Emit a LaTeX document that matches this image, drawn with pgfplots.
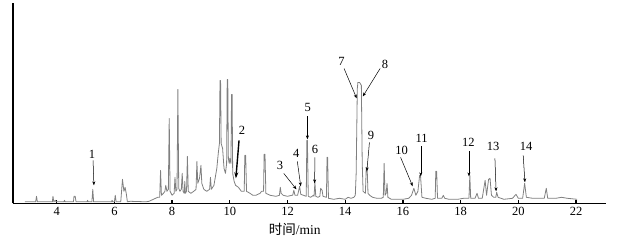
\documentclass[border=0pt]{standalone}
\usepackage{fontspec}
\setmainfont{Liberation Serif}
\newfontfamily\cjk{Noto Sans CJK SC}
\usepackage{pgfplots}
\pgfplotsset{compat=1.18}
\usetikzlibrary{arrows.meta}
\definecolor{sig}{RGB}{128,128,128}
\begin{document}
\begin{tikzpicture}
\begin{axis}[
  name=ax,
  at={(0,0)}, anchor=south west,
  scale only axis, width=593pt, height=200pt,
  xmin=2.485, xmax=23.04, ymin=0, ymax=200.3,
  axis lines*=left,
  axis line style={black, line width=1.3pt},
  xtick={4,6,...,22}, ytick=\empty,
  tick align=inside, major tick length=3.5pt,
  tick style={black, line width=1.3pt},
  xticklabel style={font=\fontsize{12.5}{14}\selectfont},
  /pgf/number format/assume math mode=true,
  xlabel={{\cjk 时间}/min},
  xlabel style={font=\fontsize{13.5}{15}\selectfont, at={(axis description cs:0.475,-0.13)}, anchor=center},
  clip=false,
]
\addplot[sig, line width=0.8pt, line join=round] coordinates {
(2.9,1.5)(3.25,1.5)(3.27,1.5)(3.3,7)(3.33,1.5)
(3.85,1.5)(3.87,7)(3.9,1.5)(3.95,3)(3.98,1.5)
(4.25,1.5)(4.27,3)(4.29,1.5)
(4.58,1.5)(4.6,7)(4.64,7)(4.67,1.5)
(5.05,1.5)(5.07,3)(5.09,1.5)
(5.22,1.5)(5.25,14)(5.28,1.5)
(5.9,1.5)(5.92,3)(5.94,1.5)
(6.0,1.5)(6.03,8)(6.06,1.5)
(6.22,1.5)(6.28,24)(6.33,12)(6.37,16)(6.41,10)(6.45,1.5)
(6.55,2)(7.1,1.5)
(7.2,2)(7.35,4)(7.5,6)
(7.57,6)(7.6,33)(7.63,8)
(7.7,10)(7.75,12)(7.78,18)(7.82,12)
(7.87,14)(7.9,85)(7.93,12)
(8.0,8)(8.07,10)(8.1,26)(8.13,12)
(8.17,14)(8.2,114)(8.23,15)
(8.27,12)(8.32,14)(8.35,30)(8.38,12)
(8.42,10)(8.44,22)(8.46,10)
(8.5,12)(8.53,47)(8.56,12)
(8.65,10)(8.75,12)
(8.83,14)(8.86,42)(8.89,20)(8.95,25)
(9.0,38)(9.03,20)(9.1,14)(9.2,12)
(9.3,14)(9.33,26)(9.36,14)
(9.45,18)(9.55,35)(9.6,50)
(9.64,60)(9.66,123)(9.68,123)(9.7,60)
(9.75,55)(9.8,35)(9.85,30)
(9.89,40)(9.91,124)(9.93,124)(9.95,45)(9.98,40)(10.0,45)
(10.04,40)(10.06,109)(10.08,109)(10.1,30)(10.15,22)(10.2,18)(10.3,16)(10.4,12)
(10.5,12)(10.52,48)(10.55,48)(10.58,12)
(10.7,10)(10.8,8)(10.9,8)(11.05,10)(11.1,12)
(11.17,12)(11.19,49)(11.22,49)(11.25,10)
(11.4,8)(11.6,7)
(11.72,8)(11.75,16)(11.78,10)(11.85,8)
(12.0,7)(12.15,8)
(12.18,8)(12.22,13)(12.26,8)(12.35,8)(12.42,17)(12.46,9)
(12.65,7)(12.67,63)(12.69,63)(12.72,7)
(12.8,6)(12.9,8)
(12.92,7)(12.95,21)(12.98,7)
(13.05,6)(13.12,7)(13.15,15)(13.2,13)(13.23,7)
(13.35,6)(13.37,46)(13.39,46)(13.42,5)
(13.6,4)(13.8,5)(14.0,4)(14.1,6)(14.2,5)(14.3,6)
(14.35,8)(14.38,30)(14.42,115)(14.44,121)(14.5,121)(14.56,118)(14.59,40)(14.62,12)
(14.7,10)(14.73,36)(14.76,36)(14.79,10)(14.85,8)(14.95,6)(15.1,5)(15.25,5)
(15.32,6)(15.35,40)(15.38,8)(15.42,10)(15.45,20)(15.48,6)
(15.6,4)(15.8,4)(16.0,4)(16.2,5)
(16.3,8)(16.38,15)(16.45,8)
(16.52,12)(16.58,28)(16.61,28)(16.66,6)
(16.8,5)(17.0,4)
(17.12,5)(17.14,32)(17.17,32)(17.2,5)
(17.35,5)(17.4,8)(17.45,5)(17.6,4)(17.9,4)(18.1,5)(18.25,5)
(18.29,5)(18.32,28)(18.35,5)
(18.5,5)(18.57,10)(18.62,5)(18.75,5)
(18.85,23)(18.9,8)(18.97,24)(19.02,25)(19.07,8)(19.15,6)
(19.22,6)(19.25,11)(19.3,6)
(19.5,4)(19.8,5)(19.92,9)(20.0,5)(20.15,5)
(20.22,20)(20.28,6)
(20.5,5)(20.9,5)(20.97,15)(21.02,5)(21.3,5)(21.5,6)(21.7,5)(22.04,4)
};
\tikzset{lab/.style={font=\fontsize{12.5}{14}\selectfont, inner sep=0pt},
         arr/.style={-{Stealth[length=4pt,width=3pt]}, line width=0.5pt, black}}
\node[lab] at (axis cs:5.22,49) {1};
\draw[arr] (axis cs:5.26,43) -- (axis cs:5.29,18);
\node[lab] at (axis cs:10.42,73) {2};
\draw[-{Stealth[length=6pt,width=4pt]}, line width=1.4pt] (axis cs:10.32,63) -- (axis cs:10.21,25);
\node[lab] at (axis cs:11.74,38) {3};
\draw[arr] (axis cs:11.87,30) -- (axis cs:12.31,14);
\node[lab] at (axis cs:12.3,50) {4};
\draw[arr] (axis cs:12.34,42) -- (axis cs:12.46,17);
\node[lab] at (axis cs:12.70,96) {5};
\draw[arr] (axis cs:12.69,87) -- (axis cs:12.69,64);
\node[lab] at (axis cs:12.95,54) {6};
\draw[arr] (axis cs:12.95,46) -- (axis cs:12.94,20);
\node[lab] at (axis cs:13.87,142) {7};
\draw[arr] (axis cs:13.96,135) -- (axis cs:14.40,105);
\node[lab] at (axis cs:15.38,139) {8};
\draw[arr] (axis cs:15.21,135) -- (axis cs:14.61,107);
\node[lab] at (axis cs:14.89,68) {9};
\draw[arr] (axis cs:14.84,61) -- (axis cs:14.75,32);
\node[lab] at (axis cs:15.96,53) {10};
\draw[arr] (axis cs:15.92,46) -- (axis cs:16.34,17);
\node[lab] at (axis cs:16.65,65) {11};
\draw[arr] (axis cs:16.62,57) -- (axis cs:16.62,27);
\node[lab] at (axis cs:18.27,61) {12};
\draw[arr] (axis cs:18.29,52) -- (axis cs:18.29,27);
\node[lab] at (axis cs:19.13,57) {13};
\draw[arr] (axis cs:19.19,45) -- (axis cs:19.23,12);
\node[lab] at (axis cs:20.27,57) {14};
\draw[arr] (axis cs:20.17,48) -- (axis cs:20.23,21);
\end{axis}
\path (ax.south west) ++(-13pt,-36.7pt) rectangle ++(624pt,240pt);
\end{tikzpicture}
\end{document}
